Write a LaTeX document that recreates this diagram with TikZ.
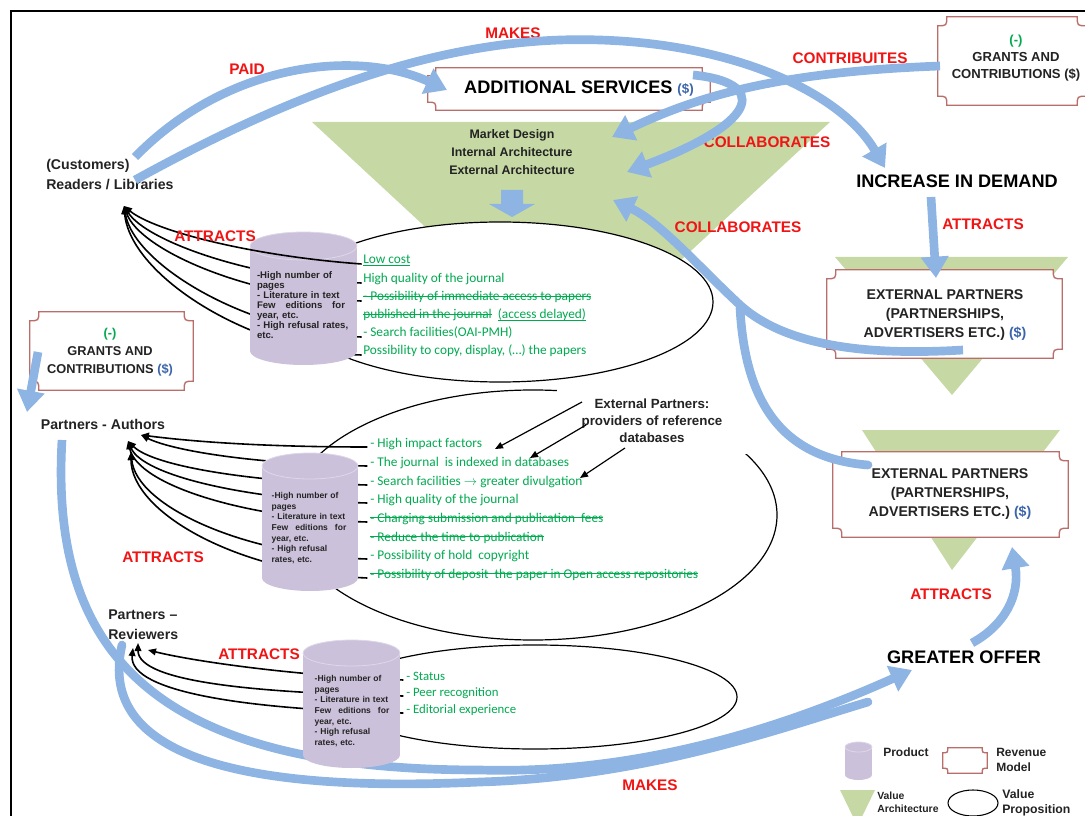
\documentclass[tikz,border=0pt]{standalone}
\usepackage{fontspec}
\setmainfont{Liberation Sans}
\newfontfamily\calib{Carlito}
\newcommand\mystrike[1]{\leavevmode\setbox0\hbox{#1}\rlap{\rule[0.27em]{\wd0}{0.07em}}\box0}
\newcommand\myuline[1]{\leavevmode\setbox0\hbox{#1}\rlap{\rule[-0.16em]{\wd0}{0.06em}}\box0}
\newcommand\spreadline[2]{\leavevmode\hbox to #1{#2}}
\usetikzlibrary{arrows.meta,shapes.geometric,calc}
\definecolor{arrowblue}{RGB}{141,180,226}
\definecolor{labred}{RGB}{240,20,20}
\definecolor{gtext}{RGB}{0,170,80}
\definecolor{cylfill}{RGB}{204,193,218}
\definecolor{cyledge}{RGB}{222,215,233}
\definecolor{vagreen}{RGB}{198,217,164}
\definecolor{plaqueline}{RGB}{185,110,105}
\definecolor{dollarblue}{RGB}{60,100,170}
\definecolor{dkgray}{RGB}{35,35,35}
\newcommand\myplaque[6]{%
  \path (#2,#3) node[minimum width=#4*0.75pt, minimum height=#5*0.75pt, inner sep=0pt] (#1) {};
  \filldraw[fill=white, draw=plaqueline, line width=1pt]
    ($(#1.north west)+(#6,0)$) -- ($(#1.north east)+(-#6,0)$) .. controls ($(#1.north east)+(-#6,#6)$) .. ($(#1.north east)+(0,#6)$)
    -- ($(#1.south east)+(0,-#6)$) .. controls ($(#1.south east)+(-#6,-#6)$) .. ($(#1.south east)+(-#6,0)$)
    -- ($(#1.south west)+(#6,0)$) .. controls ($(#1.south west)+(#6,-#6)$) .. ($(#1.south west)+(0,-#6)$)
    -- ($(#1.north west)+(0,#6)$) .. controls ($(#1.north west)+(#6,#6)$) .. cycle;}
\newcommand\mycyl[6]{%
  \path (#2,{(#3+#4)/2}) coordinate (#1);
  \fill[cylfill] (#2-#5,#3+#6) rectangle (#2+#5,#4-#6);
  \fill[cylfill] (#2,#4-#6) ellipse [x radius=#5*0.75pt, y radius=#6*0.75pt];
  \filldraw[fill=cylfill, draw=cyledge, line width=0.6pt] (#2,#3+#6) ellipse [x radius=#5*0.75pt, y radius=#6*0.75pt];}
\begin{document}
\begin{tikzpicture}[x=0.75pt,y=-0.75pt,
  lbl/.style={font=\bfseries\fontsize{11.5}{13}\selectfont, text=labred, inner sep=0pt},
  barrow/.style={draw=arrowblue, line width=6.5pt, -{Triangle[length=16pt,width=20pt]}},
  bline/.style={draw=arrowblue, line width=6.5pt, line cap=round},
  conn/.style={draw=black, line width=1.2pt, -{Triangle[length=6pt,width=5pt]}},
  thinarr/.style={draw=black, line width=0.9pt, -{Triangle[length=6pt,width=5pt]}},
  gl/.style={anchor=base west, inner sep=0pt, text=gtext, font=\calib\fontsize{10}{12}\selectfont},
  gl3/.style={anchor=base west, inner sep=0pt, text=gtext, font=\calib\fontsize{9.6}{12}\selectfont},
  cyltxa/.style={inner sep=0pt, align=left, text width=72pt, font=\bfseries\fontsize{7.2}{7.5}\selectfont, text=dkgray},
  cyltxb/.style={inner sep=0pt, align=left, text width=62pt, font=\bfseries\fontsize{6.4}{8}\selectfont, text=dkgray},
  bigtxt/.style={font=\bfseries\fontsize{13.6}{16}\selectfont, inner sep=0pt},
  vprop/.style={ellipse, draw, line width=0.9pt, fill=white, inner sep=0pt},
  boxtxt/.style={align=center, inner sep=0pt},
  lgd/.style={anchor=west, align=left, inner sep=0pt, text=dkgray}
]
\useasboundingbox (0,0) rectangle (1085,816);
\clip (0,0) rectangle (1085,816);
\draw[line width=2.2pt] (11,11) rectangle (1100,830);

% value architecture triangles
\fill[vagreen] (312,122) -- (830,122) -- (571,362) -- cycle;
\fill[vagreen] (835,257) -- (1068,257) -- (952,395) -- cycle;
\fill[vagreen] (862,430) -- (1060,430) -- (952,570) -- cycle;
\fill[vagreen] (840,790) -- (875,790) -- (857.5,826) -- cycle;

% value propositions
\node[vprop, minimum width=319.5pt, minimum height=120pt] (vp1) at (500,302) {};
\node[vprop, minimum width=366pt, minimum height=187.5pt] (vp2) at (533,515) {};
\node[vprop, minimum width=303pt, minimum height=78pt] (vp3) at (535,697) {};
\node[vprop, line width=0.8pt, minimum width=37.5pt, minimum height=19.5pt] (lgvp) at (973,803) {};

% market design text and block arrow
\node[boxtxt, font=\bfseries\fontsize{9.3}{13.5}\selectfont, text=dkgray] (mkd) at (512,152) {Market Design\\Internal Architecture\\External Architecture};
\fill[arrowblue] (501,190) -- (523,190) -- (523,204) -- (535,204) -- (512,217) -- (489,204) -- (501,204) -- cycle;

% external partners note
\node[fill=white, boxtxt, font=\bfseries\fontsize{10}{12.75}\selectfont, text=dkgray, minimum width=142pt, minimum height=50pt] (extnote) at (652,421) {External Partners:\\providers of reference\\databases};

% people nodes
\node[anchor=west, align=left, inner sep=0pt, font=\bfseries\fontsize{10.6}{15}\selectfont, text=dkgray] (readers) at (46,175) {(Customers)\\Readers / Libraries};
\node[inner sep=0pt, font=\bfseries\fontsize{10.6}{15}\selectfont, text=dkgray] (authors) at (103,424) {Partners - Authors};
\node[anchor=west, align=left, inner sep=0pt, font=\bfseries\fontsize{10.6}{15}\selectfont, text=dkgray] (reviewers) at (108,625) {Partners --\\Reviewers};
\node[bigtxt] (increase) at (957,181) {INCREASE IN DEMAND};
\node[bigtxt] (greater) at (964,657) {GREATER OFFER};

% green lists
\node[gl] (g11) at (363,264) {\myuline{Low cost}};
\node[gl] (g12) at (363,283) {High quality of the journal};
\node[gl] (g13) at (363,301) {\mystrike{- Possibility of immediate access to papers}};
\node[gl] (g14) at (363,319) {\mystrike{published in the journal}\ \ \myuline{(access delayed)}};
\node[gl] (g15) at (363,337) {- Search facilities(OAI-PMH)};
\node[gl] (g16) at (363,355) {Possibility to copy, display, (…) the papers};

\node[gl] (g21) at (370,447) {- High impact factors};
\node[gl] (g22) at (370,466) {- The journal\ \ is indexed in databases};
\node[gl] (g23) at (370,485) {- Search facilities $\rightarrow$ greater divulgation};
\node[gl] (g24) at (370,503) {- High quality of the journal};
\node[gl] (g25) at (370,522) {\mystrike{- Charging submission and publication\ \ fees}};
\node[gl] (g26) at (370,541) {\mystrike{- Reduce the time to publication}};
\node[gl] (g27) at (370,559) {- Possibility of hold\ \ copyright};
\node[gl] (g28) at (370,578) {\mystrike{- Possibility of deposit\ \ the paper in Open access repositories}};

\node[gl3] (g31) at (406,680) {- Status};
\node[gl3] (g32) at (406,696) {- Peer recognition};
\node[gl3] (g33) at (406,713) {- Editorial experience};

% target points
\coordinate (rdA) at (124,206);
\coordinate (auA) at (141,435);
\coordinate (auB) at (128,441);
\coordinate (auC) at (131,452);
\coordinate (rvA) at (148,650);
\coordinate (rvB) at (138,643);
\coordinate (rvC) at (133,648);

% black attract connectors
\draw[conn] ([xshift=-1pt]g12.base west) .. controls +(-110,-4) and +(22,35) .. (rdA);
\draw[conn] ([xshift=-1pt]g13.base west) .. controls +(-110,-3) and +(16,45) .. (rdA);
\draw[conn] ([xshift=-1pt]g15.base west) .. controls +(-110,-3) and +(10,60) .. (rdA);
\draw[conn] ([xshift=-1pt]g16.base west) .. controls +(-110,-3) and +(6,70) .. (rdA);

\draw[conn] ([xshift=-2pt]g21.base west) .. controls +(-118,0) and +(39,5) .. (auA);
\draw[conn] ([xshift=-2pt]g22.base west) .. controls +(-118,-2) and +(30,15) .. (auA);
\draw[conn] ([xshift=-2pt]g23.base west) .. controls +(-118,-3) and +(25,25) .. (auB);
\draw[conn] ([xshift=-2pt]g24.base west) .. controls +(-118,-3) and +(15,35) .. (auB);
\draw[conn] ([xshift=-2pt]g25.base west) .. controls +(-118,-3) and +(10,45) .. (auB);
\draw[conn] ([xshift=-2pt]g27.base west) .. controls +(-120,-3) and +(5,55) .. (auC);
\draw[conn] ([xshift=-2pt]g28.base west) .. controls +(-130,-5) and +(0,60) .. (auC);

\draw[conn] ([xshift=-2pt]g31.base west) .. controls +(-120,-5) and +(40,10) .. (rvA);
\draw[conn] ([xshift=-2pt]g32.base west) .. controls +(-140,-3) and +(0,40) .. (rvB);
\draw[conn] ([xshift=-2pt]g33.base west) .. controls +(-150,-3) and +(-5,45) .. (rvC);

% note arrows
\coordinate (n1) at (582,402);
\coordinate (n2) at (586,425);
\coordinate (n3) at (625,448);
\coordinate (t1) at (495,449);
\coordinate (t2) at (530,458);
\coordinate (t3) at (580,478);
\draw[thinarr] (n1) -- (t1);
\draw[thinarr] (n2) -- (t2);
\draw[thinarr] (n3) -- (t3);

% bottom MAKES arrows (behind cylinder 3)
\coordinate (aS) at (62,440);
\coordinate (rvS) at (122,645);
\coordinate (grtip) at (912,670);
\coordinate (mrgB) at (868,702);
\draw[barrow] (aS) .. controls (50,650) and (150,770) .. (480,770) .. controls (650,775) and (800,720) .. (grtip);
\draw[bline] (rvS) .. controls (100,740) and (200,795) .. (480,782) .. controls (650,777) and (790,725) .. (mrgB);

% cylinders (products)
\mycyl{cyl1}{303.5}{232}{365}{53.5}{14}
\mycyl{cyl2}{310}{453}{591}{48}{13}
\mycyl{cyl3}{351.5}{640}{768}{48.5}{13}
\mycyl{lgcyl}{858.5}{742}{780}{13.5}{5}
\node[cyltxa] (cyl1t) at (305,305) {-High number of\\pages\\- Literature in text\\\spreadline{66pt}{Few\hfill editions\hfill for}\\year, etc.\\- High refusal rates,\\etc.};
\node[cyltxb] (cyl2t) at (313,528) {-High number of\\pages\\- Literature in text\\\spreadline{56pt}{Few\hfill editions\hfill for}\\year, etc.\\- High refusal\\rates, etc.};
\node[cyltxb] (cyl3t) at (356,711) {-High number of\\pages\\- Literature in text\\\spreadline{56pt}{Few\hfill editions\hfill for}\\year, etc.\\- High refusal\\rates, etc.};

% top connector passes over the cylinder cap
\draw[conn] ([xshift=-1pt]g11.base west) .. controls +(-110,-8) and +(30,25) .. (rdA);

% revenue model plaques
\myplaque{addsvc}{569}{89}{282}{42}{8}
\node[inner sep=0pt, font=\bfseries\fontsize{13.6}{16}\selectfont] (addsvct) at (579,89) {ADDITIONAL SERVICES {\fontsize{10}{12}\selectfont\color{dollarblue}(\$)}};
\myplaque{grtr}{1012}{61}{148}{88}{9}
\node[boxtxt, font=\bfseries\fontsize{9.8}{13}\selectfont, text=dkgray] (grtrt) at (1016,58) {{\color{gtext}(-)}\\GRANTS AND\\CONTRIBUTIONS (\$)};
\myplaque{grl}{111.5}{351}{163}{78}{9}
\node[boxtxt, font=\bfseries\fontsize{9.6}{13.5}\selectfont, text=dkgray] (grlt) at (110,352) {{\color{gtext}(-)}\\GRANTS AND\\CONTRIBUTIONS {\color{dollarblue}(\$)}};
\myplaque{ex1}{944.5}{314}{235}{88}{9}
\node[boxtxt, font=\bfseries\fontsize{10.6}{14.2}\selectfont, text=dkgray] (ex1t) at (945,315) {EXTERNAL PARTNERS\\(PARTNERSHIPS,\\ADVERTISERS ETC.) {\color{dollarblue}(\$)}};
\myplaque{ex2}{950.5}{494.5}{235}{85}{9}
\node[boxtxt, font=\bfseries\fontsize{10.6}{14.2}\selectfont, text=dkgray] (ex2t) at (950,494) {EXTERNAL PARTNERS\\(PARTNERSHIPS,\\ADVERTISERS ETC.) {\color{dollarblue}(\$)}};
\myplaque{lgpl}{965}{760.5}{44}{25}{5}

% legend texts
\node[lgd, font=\bfseries\fontsize{9}{11}\selectfont] (lgprod) at (883,752) {Product};
\node[lgd, font=\bfseries\fontsize{9}{11}\selectfont] (lgrev) at (996,760) {Revenue\\Model};
\node[lgd, font=\bfseries\fontsize{7.8}{9.8}\selectfont] (lgva) at (877,802) {Value\\Architecture};
\node[lgd, font=\bfseries\fontsize{9.2}{11}\selectfont] (lgvpt) at (1002,803) {Value\\Proposition};

% red labels
\node[lbl] (lpaid) at (247,69) {PAID};
\node[lbl] (lmakes1) at (513,33) {MAKES};
\node[lbl] (lcontrib) at (850,58) {CONTRIBUITES};
\node[lbl] (lcollab1) at (767,142) {COLLABORATES};
\node[lbl] (lcollab2) at (738,227) {COLLABORATES};
\node[lbl] (latt1) at (215,236) {ATTRACTS};
\node[lbl] (latt2) at (163,557) {ATTRACTS};
\node[lbl] (latt3) at (259,654) {ATTRACTS};
\node[lbl] (latt4) at (983,224) {ATTRACTS};
\node[lbl] (latt5) at (951,594) {ATTRACTS};
\node[lbl] (lmakes2) at (650,785) {MAKES};

% blue arrows (top)
\coordinate (paidS) at (135,157);
\coordinate (addL) at (447,90);
\coordinate (mkS) at (135,180);
\coordinate (incT) at (885,168);
\coordinate (grL) at (940,66);
\coordinate (triA) at (612,137);
\coordinate (addR) at (693,75);
\coordinate (triB) at (627,172);
\coordinate (ex1L) at (963,350);
\coordinate (triC) at (613,200);
\coordinate (ex2L) at (868,465);
\coordinate (mrg) at (740,308);
\coordinate (incB) at (931,197);
\coordinate (ex1T) at (936,278);
\coordinate (grT) at (972,643);
\coordinate (ex2B) at (1012,547);
\coordinate (glS) at (38,352);
\coordinate (auT) at (27,412);

\draw[barrow] (paidS) .. controls (230,60) and (360,50) .. (addL);
\draw[barrow] (mkS) .. controls (280,100) and (420,45) .. (560,40) .. controls (720,35) and (840,90) .. (incT);
\draw[barrow] (grL) .. controls (780,72) and (700,95) .. (triA);
\draw[barrow] (addR) .. controls (765,82) and (765,120) .. (triB);
\draw[bline] (ex2L) .. controls (780,458) and (745,400) .. (mrg);
\draw[barrow] (ex1L) .. controls (880,355) and (790,350) .. (740,305) .. controls (700,268) and (660,222) .. (triC);
\draw[barrow] (incB) -- (ex1T);
\draw[barrow] (grT) .. controls (1005,625) and (1020,595) .. (ex2B);
\draw[barrow] (glS) -- (auT);
\end{tikzpicture}
\end{document}
